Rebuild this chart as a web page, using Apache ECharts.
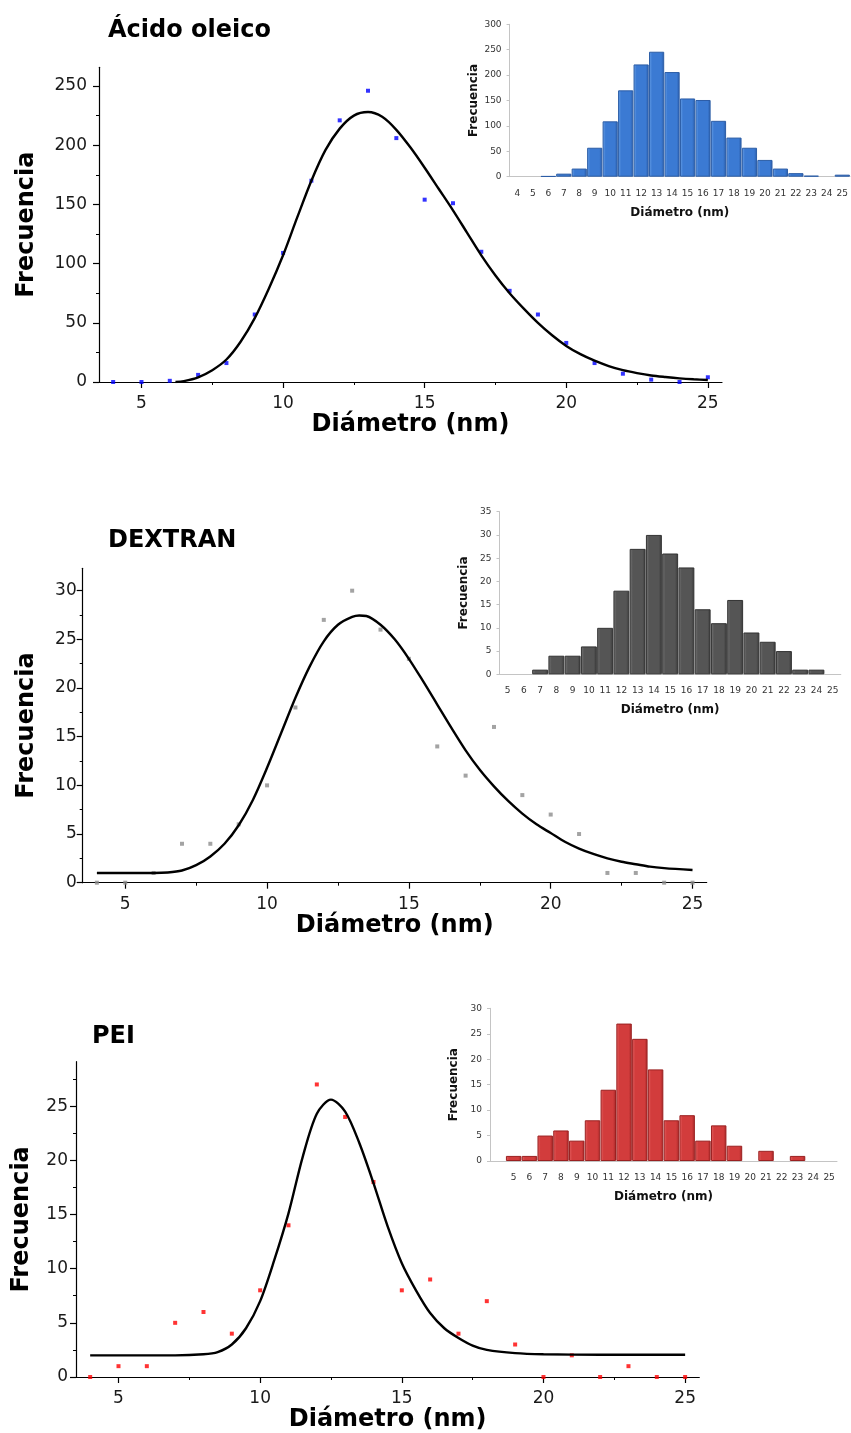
<!DOCTYPE html>
<html>
<head>
<meta charset="utf-8">
<script src="https://cdn.jsdelivr.net/npm/echarts@6/dist/echarts.min.js"></script>
<style>
html,body{margin:0;padding:0;background:#fff;}
#c{width:851px;height:1433px;}
</style>
</head>
<body>
<div id="c"></div>
<script>
// ---------- data ----------
const titles = ['Ácido oleico', 'DEXTRAN', 'PEI'];
const xName = 'Diámetro (nm)';
const yName = 'Frecuencia';

// scatter points (main plots)
const scatterX = [4,5,6,7,8,9,10,11,12,13,14,15,16,17,18,19,20,21,22,23,24,25];
const oleicoPts  = [0,0,1,6,16,57,109,170,221,246,206,154,151,110,77,57,33,16,7,2,0,4];
const dextranPts = [0,0,1,4,4,6,10,18,27,30,26,23,14,11,16,9,7,5,1,1,0,0];
const peiPts     = [0,1,1,5,6,4,8,14,27,24,18,8,9,4,7,3,0,2,0,1,0,0];

// fitted curves
const oleicoCurveX = [6.2,6.5,7,7.5,8,8.5,9,9.5,10,10.5,11,11.5,12,12.5,13,13.5,14,14.5,15,15.5,16,16.5,17,17.5,18,18.5,19,19.5,20,20.5,21,21.5,22,22.5,23,23.5,24,24.5,25];
const oleicoCurveY = [0,0.8,4,10,19,34,54,79,107,139,170,196,214,225,228,224,213,198,181,163,145,126,107,90,75,62,50,39.5,30.5,23.5,18,13.5,10,7.5,5.5,4.2,3.1,2.3,1.7];
const dextranCurveX = [4,5,6,6.5,7,7.5,8,8.5,9,9.5,10,10.5,11,11.5,12,12.5,13,13.25,13.5,14,14.5,15,15.5,16,16.5,17,17.5,18,18.5,19,19.5,20,20.5,21,21.5,22,22.5,23,23.5,24,25];
const dextranCurveY = [1,1,1,1.05,1.25,1.8,2.7,4.0,5.9,8.5,11.8,15.4,19.0,22.2,24.8,26.5,27.3,27.45,27.4,26.5,25.0,23.0,20.7,18.3,15.9,13.6,11.6,9.9,8.4,7.1,6.0,5.1,4.2,3.5,2.95,2.5,2.15,1.9,1.65,1.5,1.3];
const peiCurveX = [4,5,6,7,8,8.5,9,9.5,10,10.5,11,11.5,12,12.5,13,13.5,14,14.5,15,15.5,16,16.5,17,17.5,18,19,20,22,25];
const peiCurveY = [2,2,2,2,2.1,2.3,3.0,4.5,7.0,10.8,15.1,20.3,24.3,25.6,24.5,21.6,17.9,13.9,10.5,8.0,5.9,4.5,3.6,2.9,2.5,2.2,2.1,2.05,2.05];

// inset histograms
const oleicoCats  = ['4','5','6','7','8','9','10','11','12','13','14','15','16','17','18','19','20','21','22','23','24','25'];
const oleicoHist  = [0,0,1,6,16,57,109,170,221,246,206,154,151,110,77,57,33,16,7,2,0,4];
const dextranCats = ['5','6','7','8','9','10','11','12','13','14','15','16','17','18','19','20','21','22','23','24','25'];
const dextranHist = [0,0,1,4,4,6,10,18,27,30,26,23,14,11,16,9,7,5,1,1,0];
const peiCats     = ['','5','6','7','8','9','10','11','12','13','14','15','16','17','18','19','20','21','22','23','24','25'];
const peiHist     = [0,1,1,5,6,4,8,14,27,24,18,8,9,4,7,3,0,2,0,1,0,0];

// ticks
const xMajor = [5,10,15,20,25];
const xMinor = [7.5,12.5,17.5,22.5];
const oleicoYMajor = [0,50,100,150,200,250];
const oleicoYMinor = [25,75,125,175,225];
const dextranYMajor = [0,5,10,15,20,25,30];
const dextranYMinor = [2.5,7.5,12.5,17.5,22.5,27.5];
const peiYMajor = [0,5,10,15,20,25];
const peiYMinor = [2.5,7.5,12.5,17.5,22.5,27.5];

// ---------- layout ----------
const FONT = 'DejaVu Sans';
const mains = [
  {left:99, top:67.3, w:623, h:314.7, ymax:265.8, yMaj:oleicoYMajor, yMin:oleicoYMinor, ylm:12, xlm:13, yng:60, sx:oleicoPts, cx:oleicoCurveX, cy:oleicoCurveY, col:'#0000ff'},
  {left:82.7, top:568.3, w:624, h:314.4, ymax:32.3, yMaj:dextranYMajor, yMin:dextranYMinor, ylm:6, xlm:13, yng:44, sx:dextranPts, cx:dextranCurveX, cy:dextranCurveY, col:'#8c8c8c'},
  {left:76, top:1061.7, w:623.3, h:315.6, ymax:29.1, yMaj:peiYMajor, yMin:peiYMinor, ylm:8, xlm:13, yng:42, sx:peiPts, cx:peiCurveX, cy:peiCurveY, col:'#ff0000'}
];
const insets = [
  {left:509.6, top:24.3, w:341.4, h:152.4, max:300, interval:50, cats:oleicoCats, vals:oleicoHist,
   c:['#6aa2e8','#3b7ad3','#2a5ca8'], border:'#2c5da6'},
  {left:499.5, top:511.7, w:341.3, h:162.6, max:35, interval:5, cats:dextranCats, vals:dextranHist,
   c:['#777777','#555555','#3a3a3a'], border:'#333333'},
  {left:490, top:1008.3, w:347, h:152.7, max:30, interval:5, cats:peiCats, vals:peiHist,
   c:['#e56464','#d23c3c','#a62727'], border:'#9a2020'}
];

const grid = [], xAxis = [], yAxis = [], series = [];
mains.forEach((m, i) => {
  grid.push({left:m.left, top:m.top, width:m.w, height:m.h, containLabel:false});
  const g = i;
  xAxis.push({type:'value', gridIndex:g, min:3.5, max:25.5,
    axisLine:{show:true, onZero:false, lineStyle:{color:'#000', width:1.2}},
    axisTick:{show:true, customValues:xMajor, length:6, lineStyle:{color:'#000', width:1.2}},
    axisLabel:{customValues:xMajor, fontFamily:FONT, fontSize:17, color:'#1a1a1a', margin:m.xlm},
    splitLine:{show:false},
    name:xName, nameLocation:'middle', nameGap:31,
    nameTextStyle:{fontFamily:FONT, fontWeight:'bold', fontSize:24, color:'#000'}
  });
  xAxis.push({type:'value', gridIndex:g, min:3.5, max:25.5, position:'bottom',
    axisLine:{show:false}, axisLabel:{show:false}, splitLine:{show:false},
    axisTick:{show:true, customValues:xMinor, length:3, lineStyle:{color:'#000', width:1}}
  });
  yAxis.push({type:'value', gridIndex:g, min:0, max:m.ymax,
    axisLine:{show:true, onZero:false, lineStyle:{color:'#000', width:1.2}},
    axisTick:{show:true, customValues:m.yMaj, length:6, lineStyle:{color:'#000', width:1.2}},
    axisLabel:{customValues:m.yMaj, fontFamily:FONT, fontSize:17, color:'#1a1a1a', margin:m.ylm},
    splitLine:{show:false},
    name:yName, nameLocation:'middle', nameGap:m.yng, nameRotate:90,
    nameTextStyle:{fontFamily:FONT, fontWeight:'bold', fontSize:24, color:'#000'}
  });
  yAxis.push({type:'value', gridIndex:g, min:0, max:m.ymax, position:'left',
    axisLine:{show:false}, axisLabel:{show:false}, splitLine:{show:false},
    axisTick:{show:true, customValues:m.yMin, length:3, lineStyle:{color:'#000', width:1}}
  });
  series.push({type:'scatter', xAxisIndex:2*i, yAxisIndex:2*i, symbol:'rect', symbolSize:4,
    itemStyle:{color:m.col}, data:scatterX.map((x,k)=>[x, m.sx[k]]), z:3, silent:true});
  series.push({type:'line', xAxisIndex:2*i, yAxisIndex:2*i, smooth:0.3, showSymbol:false,
    lineStyle:{color:'#000', width:2.4}, data:m.cx.map((x,k)=>[x, m.cy[k]]), z:4, silent:true});
});

insets.forEach((s, j) => {
  grid.push({left:s.left, top:s.top, width:s.w, height:s.h, containLabel:false});
  const g = 3 + j;
  xAxis.push({type:'category', gridIndex:g, data:s.cats,
    axisLine:{show:true, lineStyle:{color:'#c4c4c4', width:1}},
    axisTick:{show:false},
    axisLabel:{fontFamily:FONT, fontSize:9, color:'#333', margin:12, interval:0},
    name:xName, nameLocation:'middle', nameGap:30,
    nameTextStyle:{fontFamily:FONT, fontWeight:'bold', fontSize:12, color:'#111'}
  });
  yAxis.push({type:'value', gridIndex:g, min:0, max:s.max, interval:s.interval,
    axisLine:{show:true, lineStyle:{color:'#c4c4c4', width:1}},
    axisTick:{show:true, length:3, lineStyle:{color:'#c4c4c4'}},
    axisLabel:{fontFamily:FONT, fontSize:9, color:'#333', margin:8},
    splitLine:{show:false},
    name:yName, nameLocation:'middle', nameGap:30, nameRotate:90,
    nameTextStyle:{fontFamily:FONT, fontWeight:'bold', fontSize:12, color:'#111'}
  });
  series.push({type:'bar', xAxisIndex:6+j, yAxisIndex:6+j, barCategoryGap:'2%',
    data:s.vals.map(v => v === 0 ? null : v), silent:true,
    itemStyle:{borderColor:s.border, borderWidth:1,
      color:{type:'linear', x:0, y:0, x2:1, y2:0, colorStops:[
        {offset:0, color:s.c[0]}, {offset:0.2, color:s.c[1]}, {offset:0.8, color:s.c[1]}, {offset:1, color:s.c[2]}]}}
  });
});

const titlePos = [[108, 30], [108, 540], [92, 1036]];
const graphic = titles.map((t, i) => ({
  type:'text', left:titlePos[i][0], top:titlePos[i][1] - 11,
  style:{text:t, font:'bold 24px "DejaVu Sans"', fill:'#000'}
}));

const chart = echarts.init(document.getElementById('c'), null, {renderer:'canvas'});
chart.setOption({
  animation:false,
  backgroundColor:'#fff',
  grid, xAxis, yAxis, series, graphic
});
</script>
</body>
</html>
